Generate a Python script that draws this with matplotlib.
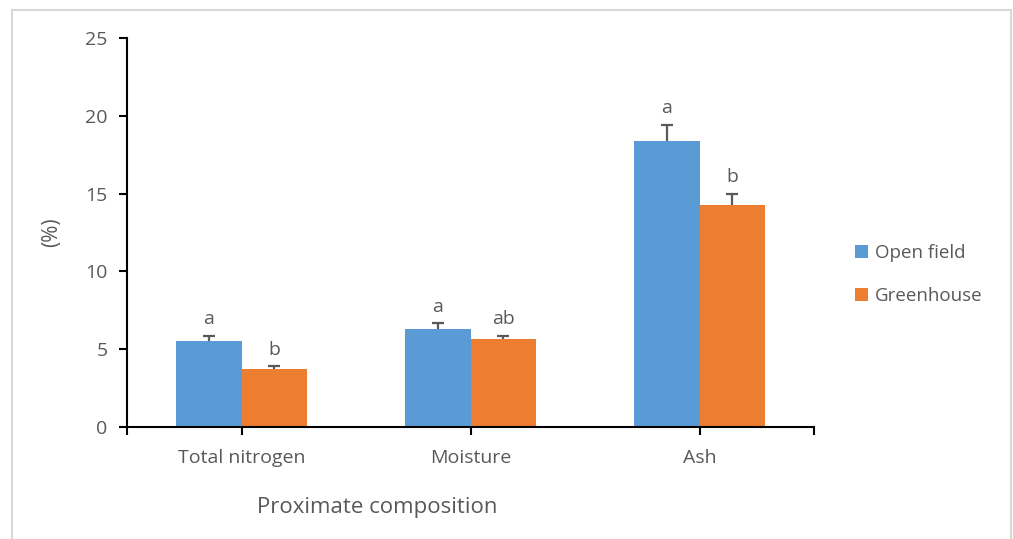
#!/usr/bin/env python3
import numpy as np
import matplotlib.pyplot as plt
from matplotlib.patches import Rectangle

# Proximate composition, mean (%) with standard error
categories = ['Total nitrogen', 'Moisture', 'Ash']
series_names = ['Open field', 'Greenhouse']
open_field = [5.55, 6.28, 18.4]
open_field_err = [0.3, 0.38, 1.0]
greenhouse = [3.7, 5.64, 14.29]
greenhouse_err = [0.2, 0.23, 0.7]
open_field_letters = ['a', 'a', 'a']
greenhouse_letters = ['b', 'ab', 'b']

BLUE = '#5B9BD5'
ORANGE = '#ED7D31'
GREY = '#595959'

plt.rcParams['font.family'] = ['Open Sans', 'DejaVu Sans']

W, H = 1013, 539
fig = plt.figure(figsize=(W / 100, H / 100), dpi=100)
ax = fig.add_axes([127 / W, 1 - 427 / H, (814 - 127) / W, (427 - 38) / H])

# light grey chart-area border
fig.patches.append(Rectangle((12 / W, -0.02), (1011 - 12) / W, 1 - 10 / H + 0.02,
                             transform=fig.transFigure, fill=False,
                             edgecolor='#D9D9D9', linewidth=1.5))

x = np.arange(len(categories))
bw = 0.284

groups = [(x - bw / 2, open_field, open_field_err, open_field_letters, BLUE, series_names[0]),
          (x + bw / 2, greenhouse, greenhouse_err, greenhouse_letters, ORANGE, series_names[1])]

for xs, vals, errs, letters, color, name in groups:
    vals = np.array(vals)
    errs = np.array(errs)
    ax.bar(xs, vals, bw, color=color, label=name, zorder=2)
    # plus-only error bars with a cap on top
    ax.vlines(xs, vals, vals + errs, color=GREY, linewidth=1.6, zorder=3)
    ax.plot(xs, vals + errs, linestyle='none', marker='_', markersize=9,
            markeredgewidth=1.6, color=GREY, zorder=3)
    # significance letters
    for xi, v, e, t in zip(xs, vals, errs, letters):
        ax.text(xi, v + e + 0.5, t, ha='center', va='bottom', fontsize=14, color=GREY)

ax.set_xlim(-0.5, 2.5)
ax.set_ylim(0, 25)
ax.set_yticks(range(0, 26, 5))
ax.set_xticks(x)
ax.set_xticklabels(categories)
ax.set_xticks([-0.5, 2.5], minor=True)

for s in ['top', 'right']:
    ax.spines[s].set_visible(False)
for s in ['left', 'bottom']:
    ax.spines[s].set_linewidth(1.5)
    ax.spines[s].set_color('black')
ax.tick_params(axis='both', which='both', length=6, width=1.5, color='black',
               labelsize=14, labelcolor=GREY)
ax.tick_params(axis='x', pad=10)
ax.tick_params(axis='y', pad=8)

ax.set_ylabel('(%)', fontsize=15, color=GREY)
ax.yaxis.set_label_coords(-(127 - 62) / (814 - 127), 0.5)
ax.set_xlabel('Proximate composition', fontsize=16, color=GREY)
ax.xaxis.set_label_coords((377 - 127) / (814 - 127), -(507 - 427) / (427 - 38))
ax.xaxis.label.set_verticalalignment('center')

ax.legend(loc='center left', bbox_to_anchor=(1.035, 0.392), frameon=False,
          fontsize=13.5, labelcolor=GREY, handlelength=0.7, handleheight=0.7,
          handletextpad=0.35, labelspacing=1.3)

fig.savefig('out.png', dpi=100)
